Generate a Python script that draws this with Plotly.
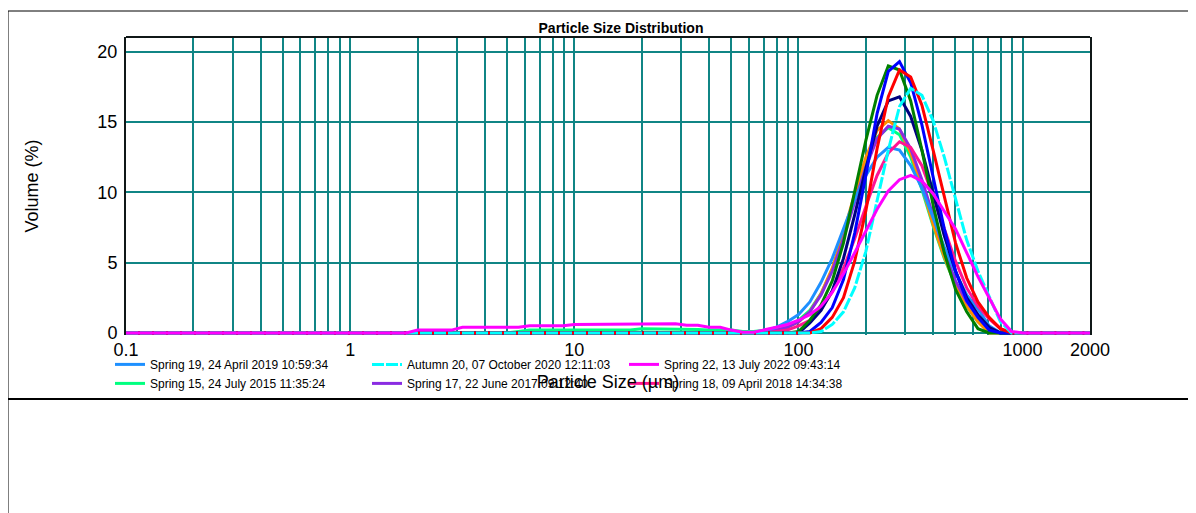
import plotly.graph_objects as go

# particle sizes (um) - fine region (only a few samples carry fines here)
fine_sizes = [0.1, 1.59, 1.78, 2.0, 2.24, 2.52, 2.83, 3.17, 3.56, 3.99, 4.48, 5.02,
              5.64, 6.32, 7.10, 7.96, 8.93, 10.0, 11.2, 12.6, 14.2, 15.9, 17.8, 20.0,
              22.4, 25.2, 28.3, 31.7, 35.6, 39.9, 44.8, 50.2]
# particle sizes (um) - main peak region
peak_sizes = [56.4, 63.2, 71.0, 79.6, 89.3, 100.2, 112.5, 126.2, 141.6, 158.9, 178.3,
              200.0, 224.4, 251.8, 282.5, 317.0, 355.7, 399.1, 447.7, 502.4, 563.7,
              632.5, 709.6, 796.2, 893.4, 1002.0, 1125.0, 2000.0]

no_fines = [0.0] * len(fine_sizes)

fines_magenta = [0, 0, 0, 0.2, 0.2, 0.2, 0.2, 0.4, 0.4, 0.4, 0.4, 0.4,
                 0.4, 0.5, 0.5, 0.5, 0.5, 0.6, 0.6, 0.6, 0.65, 0.65, 0.65, 0.65,
                 0.65, 0.65, 0.65, 0.55, 0.55, 0.4, 0.4, 0.2]
fines_springgreen = [0, 0, 0, 0, 0, 0, 0, 0, 0, 0, 0, 0,
                     0.1, 0.2, 0.2, 0.2, 0.2, 0.2, 0.2, 0.2, 0.2, 0.2, 0.2, 0.3,
                     0.3, 0.3, 0.3, 0.3, 0.25, 0.2, 0.2, 0.2]

# volume (%) over peak_sizes
vol_springgreen = [0.1, 0.1, 0.2, 0.3, 0.5, 0.9, 1.6, 2.8, 4.5, 6.9, 9.6, 12.1, 13.9, 14.6,
                   14.1, 12.5, 10.2, 7.6, 5.3, 3.4, 1.9, 0.8, 0.1, 0, 0, 0, 0, 0]
vol_orange = [0, 0, 0.1, 0.2, 0.4, 0.8, 1.5, 2.8, 4.6, 7.1, 9.9, 12.5, 14.4, 15.1,
              14.5, 12.8, 10.4, 7.7, 5.4, 3.4, 1.9, 0.8, 0, 0, 0, 0, 0, 0]
vol_purple = [0, 0, 0.1, 0.2, 0.4, 0.8, 1.5, 2.7, 4.4, 6.7, 9.3, 11.8, 13.8, 14.7,
              14.5, 13.1, 10.9, 8.3, 5.8, 3.7, 2.2, 1.2, 0.3, 0, 0, 0, 0, 0]
vol_dodgerblue = [0, 0, 0.1, 0.4, 0.8, 1.3, 2.2, 3.6, 5.3, 7.4, 9.5, 11.2, 12.5, 13.2,
                  13.0, 11.9, 10.3, 8.2, 6.1, 4.3, 2.7, 1.7, 0.5, 0, 0, 0, 0, 0]
vol_deeppink = [0, 0, 0, 0.1, 0.2, 0.5, 0.9, 1.7, 2.9, 4.6, 6.7, 9.0, 11.2, 12.8,
                13.6, 13.2, 11.9, 9.7, 7.4, 5.1, 3.2, 1.9, 1.0, 0.3, 0, 0, 0, 0]
vol_navy = [0, 0, 0, 0, 0, 0, 0.7, 1.6, 3.0, 5.3, 8.4, 11.7, 14.7, 16.5,
            16.8, 15.4, 13.0, 9.9, 6.9, 4.4, 2.5, 1.3, 0.4, 0, 0, 0, 0, 0]
vol_green = [0, 0, 0, 0, 0, 0.1, 0.9, 2.0, 3.7, 6.4, 10.0, 13.7, 16.9, 19.0,
             18.7, 16.5, 13.0, 9.1, 5.7, 3.1, 1.5, 0.3, 0, 0, 0, 0, 0, 0]
vol_blue = [0, 0, 0, 0, 0, 0, 0.1, 0.75, 1.8, 3.8, 7.1, 11.2, 15.6, 18.6,
            19.3, 17.8, 14.8, 11.0, 7.4, 4.4, 2.3, 1.1, 0.2, 0, 0, 0, 0, 0]
vol_red = [0, 0, 0, 0, 0, 0, 0, 0.3, 1.1, 2.5, 5.1, 8.7, 13.1, 16.8,
           18.7, 18.2, 16.2, 13.0, 9.6, 6.4, 3.9, 2.2, 1.1, 0.3, 0, 0, 0, 0]
vol_cyan = [0, 0, 0, 0, 0, 0, 0, 0.1, 0.6, 1.5, 3.2, 5.8, 9.3, 13.0,
            16.1, 17.4, 16.9, 15.1, 12.5, 9.5, 6.6, 4.4, 2.6, 0.8, 0, 0, 0, 0]
vol_magenta = [0.05, 0.05, 0.2, 0.4, 0.6, 0.9, 1.3, 1.9, 2.9, 4.2, 5.7, 7.3, 8.8, 10.1,
               10.9, 11.2, 10.8, 9.9, 8.7, 7.4, 5.7, 4.0, 2.5, 1.0, 0.1, 0, 0, 0]

# (name, colour, dash, fines, peak values, legend column or None) in drawing order
series = [
    ("Spring 15, 24 July 2015 11:35:24", "#00FF7F", "solid", fines_springgreen, vol_springgreen, "legend"),
    ("Sample 7", "#FF8C00", "solid", no_fines, vol_orange, None),
    ("Spring 17, 22 June 2017 09:12:40", "#8A2BE2", "solid", no_fines, vol_purple, "legend2"),
    ("Spring 19, 24 April 2019 10:59:34", "#1E90FF", "solid", no_fines, vol_dodgerblue, "legend"),
    ("Spring 18, 09 April 2018 14:34:38", "#FF1493", "solid", no_fines, vol_deeppink, "legend3"),
    ("Sample 8", "#000080", "solid", no_fines, vol_navy, None),
    ("Sample 9", "#008000", "solid", no_fines, vol_green, None),
    ("Sample 10", "#0000FF", "solid", no_fines, vol_blue, None),
    ("Sample 11", "#FF0000", "solid", no_fines, vol_red, None),
    ("Autumn 20, 07 October 2020 12:11:03", "#00FFFF", "12px,2px", no_fines, vol_cyan, "legend2"),
    ("Spring 22, 13 July 2022 09:43:14", "#FF00FF", "solid", fines_magenta, vol_magenta, "legend3"),
]

x_ticks = [0.1, 1, 10, 100, 1000, 2000]
x_minor = [0.2, 0.3, 0.4, 0.5, 0.6, 0.7, 0.8, 0.9,
           2, 3, 4, 5, 6, 7, 8, 9,
           20, 30, 40, 50, 60, 70, 80, 90,
           200, 300, 400, 500, 600, 700, 800, 900]

fig = go.Figure()
for name, colour, dash, fines, vol, leg in series:
    # first row of each legend column is the later-dated entry
    rank = 1 if name.startswith(("Spring 19", "Autumn 20", "Spring 22")) else 2
    fig.add_trace(go.Scatter(
        x=fine_sizes + peak_sizes,
        y=list(fines) + vol,
        name=name,
        mode="lines",
        line=dict(color=colour, width=3, dash=dash),
        showlegend=leg is not None,
        legend=leg or "legend",
        legendrank=rank,
    ))

grid = "#108585"
fig.update_xaxes(
    type="log", range=[-1, 3.30103],
    tickvals=x_ticks, ticktext=[str(v) for v in x_ticks],
    showgrid=True, gridcolor=grid, gridwidth=2,
    minor=dict(tickvals=x_minor, showgrid=True, gridcolor=grid, gridwidth=2),
    showline=False, zeroline=False, ticks="", ticklabelstandoff=2,
    tickfont=dict(size=18, color="black"),
    title=dict(text="Particle Size (µm)", font=dict(size=18, color="black"), standoff=16),
)
fig.update_yaxes(
    range=[-0.15, 21.05], tickvals=[0, 5, 10, 15, 20],
    showgrid=True, gridcolor=grid, gridwidth=2, zeroline=False,
    showline=True, mirror=True, linecolor="#101818", linewidth=2,
    ticks="", ticklabelstandoff=3,
    tickfont=dict(size=18, color="black"),
    title=dict(text="Volume (%)", font=dict(size=18, color="black"), standoff=54),
)

# frame round the whole graphic, top border of the plot and the divider line
fig.add_shape(type="rect", xref="paper", yref="paper", x0=-0.1224, x1=1.109, y0=-0.62, y1=1.0872,
              line=dict(color="black", width=1))
fig.add_shape(type="line", xref="paper", yref="paper", x0=0, x1=1, y0=1, y1=1,
              line=dict(color="#101818", width=2))
fig.add_shape(type="line", xref="paper", yref="paper", x0=-0.1224, x1=1.109, y0=-0.2148, y1=-0.2148,
              line=dict(color="black", width=2))

legend_style = dict(orientation="v", y=-0.05, xanchor="left", yanchor="top",
                    traceorder="normal", font=dict(size=12, color="black"),
                    bgcolor="rgba(0,0,0,0)", tracegroupgap=0)

fig.update_layout(
    width=1188, height=505,
    margin=dict(l=118, r=106, t=29, b=178),
    paper_bgcolor="white", plot_bgcolor="white",
    font=dict(family="Liberation Sans, Arial, sans-serif", color="black"),
    title=dict(text="<b>Particle Size Distribution</b>", font=dict(size=14, color="black"),
               x=0.5135, xref="paper", xanchor="center", y=0.960, yanchor="middle"),
    legend=dict(x=-0.0166, **legend_style),
    legend2=dict(x=0.2500, **legend_style),
    legend3=dict(x=0.5166, **legend_style),
)

fig.write_html("out.html")
